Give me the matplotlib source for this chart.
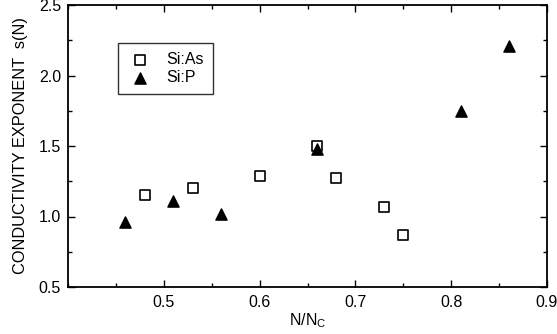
import matplotlib
matplotlib.use("Agg")
import matplotlib.pyplot as plt
from matplotlib.ticker import MultipleLocator

plt.rcParams['font.family'] = ['Liberation Sans', 'DejaVu Sans']

as_x = [0.48, 0.53, 0.60, 0.66, 0.68, 0.73, 0.75]
as_y = [1.15, 1.20, 1.29, 1.50, 1.27, 1.07, 0.87]
p_x = [0.46, 0.51, 0.56, 0.66, 0.81, 0.86]
p_y = [0.96, 1.11, 1.02, 1.48, 1.75, 2.21]

fig = plt.figure(figsize=(5.57, 3.34), dpi=100)
ax = fig.add_axes([68/557, 1-287/334, (547-68)/557, (287-5)/334])

ax.scatter(as_x, as_y, marker='s', s=60, facecolors='white', edgecolors='black', linewidths=1.2, label='Si:As', zorder=3)
ax.scatter(p_x, p_y, marker='^', s=65, color='black', label='Si:P', zorder=4)

ax.set_xlim(0.4, 0.9)
ax.set_ylim(0.5, 2.5)
ax.xaxis.set_minor_locator(MultipleLocator(0.05))
ax.yaxis.set_minor_locator(MultipleLocator(0.25))
ax.set_xticks([0.5, 0.6, 0.7, 0.8, 0.9])
ax.set_xticklabels(['0.5', '0.6', '0.7', '0.8', '0.9'])
ax.set_yticks([0.5, 1.0, 1.5, 2.0, 2.5])
ax.set_yticklabels(['0.5', '1.0', '1.5', '2.0', '2.5'])
ax.tick_params(which='both', direction='in', top=True, right=True, labelsize=11.5)
ax.tick_params(which='major', length=5, width=1)
ax.tick_params(which='minor', length=3, width=1)
ax.tick_params(axis='x', pad=6)
ax.tick_params(axis='y', pad=5)
for s in ax.spines.values():
    s.set_linewidth(1.3)

ax.set_xlabel('N/N$_\\mathregular{C}$', fontsize=11.5, labelpad=1)
ax.set_ylabel('CONDUCTIVITY EXPONENT  s(N)', fontsize=11.8, labelpad=8)

leg = ax.legend(loc='upper left', bbox_to_anchor=((118-68)/479, 1-(43-5)/282), borderaxespad=0,
                frameon=True, fancybox=False, edgecolor='black', fontsize=11.5, handletextpad=0.9,
                borderpad=0.55, labelspacing=0.2, handlelength=1.6)
leg.get_frame().set_linewidth(1.0)

fig.savefig('out.png', dpi=100)
